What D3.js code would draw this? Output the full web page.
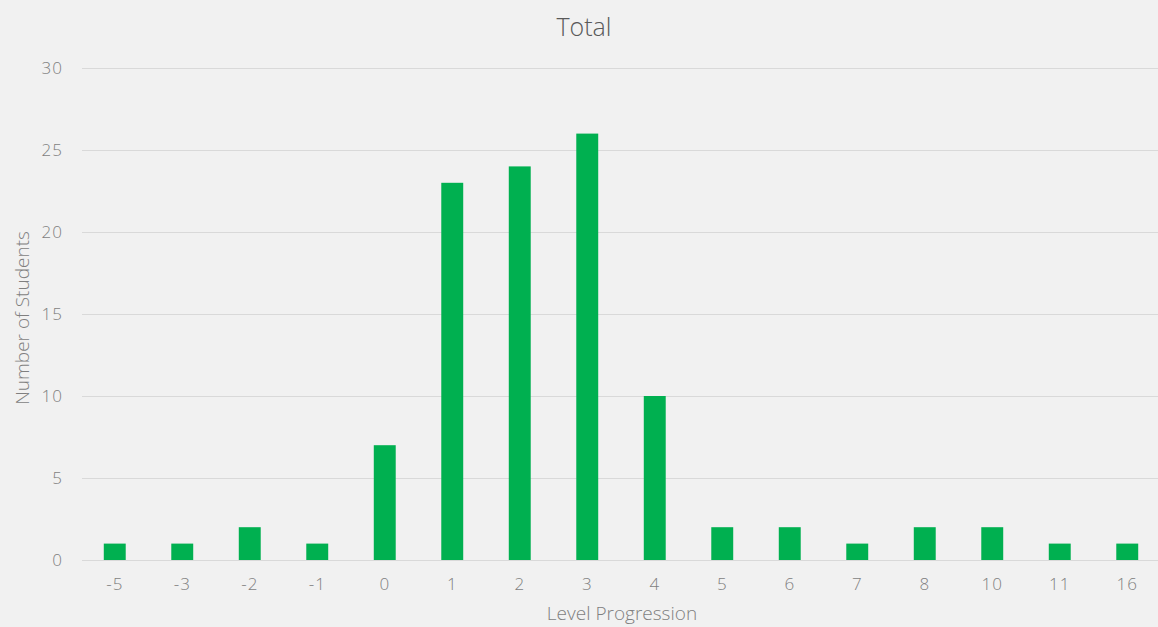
<!DOCTYPE html>
<html>
<head>
<meta charset="utf-8">
<script src="https://cdn.jsdelivr.net/npm/d3@7"></script>
<style>
  body { margin: 0; background: #f1f1f1; }
  text { font-family: "Open Sans", Lato, sans-serif; font-weight: 300; }
</style>
</head>
<body>
<div id="chart"></div>
<script>
// data
var levels = ["-5", "-3", "-2", "-1", "0", "1", "2", "3", "4", "5", "6", "7", "8", "10", "11", "16"];
var students = [1, 1, 2, 1, 7, 23, 24, 26, 10, 2, 2, 1, 2, 2, 1, 1];
var yTicks = [0, 5, 10, 15, 20, 25, 30];

var width = 1158, height = 627;

var svg = d3.select("#chart")
  .append("svg")
    .attr("width", width)
    .attr("height", height);

svg.append("rect")
  .attr("width", width)
  .attr("height", height)
  .attr("fill", "#f1f1f1");

// scales
var x = d3.scaleBand()
  .domain(levels)
  .range([81, 1161])
  .paddingInner(0.675)
  .paddingOuter(0.3375);

var y = d3.scaleLinear()
  .domain([0, 30])
  .range([560, 68]);

// gridlines
svg.append("g")
  .selectAll("line")
  .data(yTicks)
  .enter()
  .append("line")
    .attr("x1", 82)
    .attr("x2", width)
    .attr("y1", function(d) { return y(d) + 0.5; })
    .attr("y2", function(d) { return y(d) + 0.5; })
    .attr("stroke", "#d9d9d9")
    .attr("stroke-width", 1);

// y axis labels
var yAxis = svg.append("g")
  .attr("transform", "translate(63,0)")
  .call(d3.axisLeft(y).tickValues(yTicks).tickSize(0).tickPadding(0));
yAxis.select(".domain").remove();
yAxis.selectAll("text")
  .style("font-size", "17px")
  .style("font-family", "'Open Sans', sans-serif")
  .style("font-weight", 300)
  .style("letter-spacing", "1px")
  .attr("fill", "#7f7f7f");

// bars
svg.append("g")
  .selectAll("rect")
  .data(levels)
  .enter()
  .append("rect")
    .attr("x", function(d) { return x(d); })
    .attr("y", function(d, i) { return y(students[i]); })
    .attr("width", x.bandwidth())
    .attr("height", function(d, i) { return y(0) - y(students[i]); })
    .attr("fill", "#00b050");

// x axis labels
var xAxis = svg.append("g")
  .attr("transform", "translate(0,578)")
  .call(d3.axisBottom(x).tickSize(0).tickPadding(0));
xAxis.select(".domain").remove();
xAxis.selectAll("text")
  .style("font-size", "17px")
  .style("font-family", "'Open Sans', sans-serif")
  .style("font-weight", 300)
  .style("letter-spacing", "1px")
  .attr("fill", "#7f7f7f");

// title
svg.append("text")
  .attr("x", 584)
  .attr("y", 36)
  .attr("text-anchor", "middle")
  .style("font-size", "25px")
  .attr("fill", "#595959")
  .text("Total");

// axis titles
svg.append("text")
  .attr("x", 622)
  .attr("y", 620)
  .attr("text-anchor", "middle")
  .style("font-size", "19px")
  .attr("fill", "#7f7f7f")
  .text("Level Progression");

svg.append("text")
  .attr("transform", "translate(29,318) rotate(-90)")
  .attr("text-anchor", "middle")
  .style("font-size", "19px")
  .attr("fill", "#7f7f7f")
  .text("Number of Students");
</script>
</body>
</html>
